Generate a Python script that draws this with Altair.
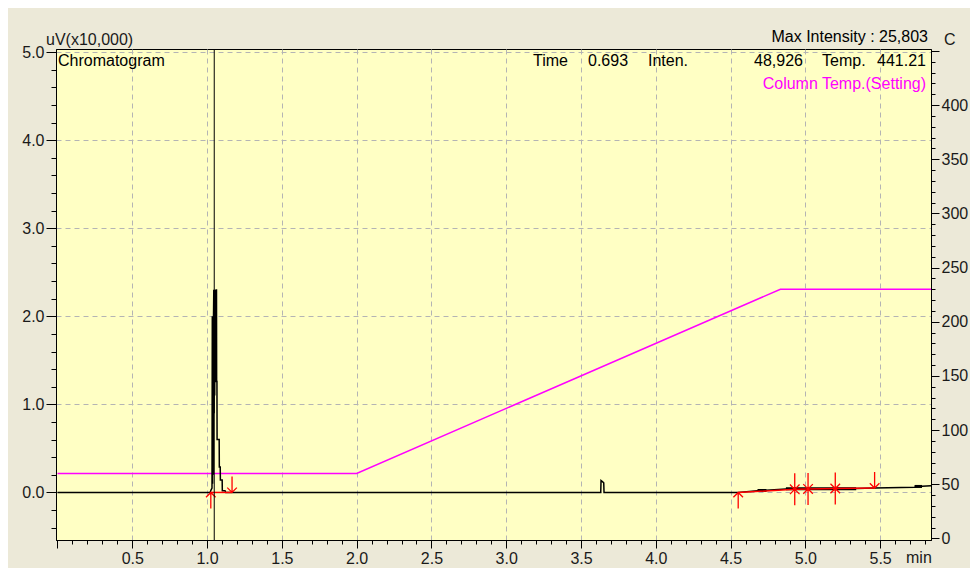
import altair as alt
import pandas as pd

# ---------------- data ----------------
# chromatogram signal: time (min) / intensity (uV x10,000)
SIG_T = [0.000, 1.020, 1.027, 1.033, 1.035, 1.037, 1.039, 1.041, 1.043, 1.045,
         1.047, 1.049, 1.051, 1.053, 1.055, 1.057, 1.059, 1.061, 1.063, 1.064,
         1.066, 1.067, 1.081, 1.082, 1.088, 1.089, 1.101, 1.102, 1.120, 1.125,
         3.632, 3.634, 3.645, 3.652, 3.654, 4.551, 4.680, 4.740, 4.870, 5.340,
         5.463, 5.730, 5.780, 5.840]
SIG_V = [0.000, 0.000, 0.030, 0.050, 2.000, 0.100, 2.000, 0.200, 2.000, 2.300,
         0.900, 2.300, 1.100, 2.300, 1.250, 2.300, 1.300, 2.300, 2.300, 1.260,
         1.260, 0.600, 0.600, 0.290, 0.290, 0.140, 0.140, 0.020, 0.020, 0.000,
         0.000, 0.135, 0.120, 0.110, 0.000, 0.000, 0.020, 0.025, 0.040, 0.045,
         0.050, 0.060, 0.070, 0.075]

# short noisy (thick) stretches of the trace
NOISE_T0 = [4.680, 4.870, 5.730]
NOISE_T1 = [4.740, 5.340, 5.780]
NOISE_V = [0.022, 0.042, 0.068]

# integration baselines (red)
BASE_SEG = ["p1", "p1", "p2", "p2", "p2", "p2", "p2"]
BASE_T = [1.025, 1.167, 4.551, 4.929, 5.018, 5.200, 5.463]
BASE_V = [0.000, 0.000, 0.000, 0.035, 0.040, 0.045, 0.050]

# peak start / end markers
UP_T = [1.025, 4.551, 4.929, 5.018, 5.200]
UP_V = [0.000, 0.000, 0.035, 0.040, 0.045]
DOWN_T = [1.167, 4.929, 5.018, 5.200, 5.463]
DOWN_V = [0.000, 0.035, 0.040, 0.045, 0.050]

CURSOR_T = [1.048]

# column temperature programme (setting)
TEMP_T = [0.0, 2.0, 4.833, 5.84]
TEMP_C = [60, 60, 230, 230]

# header texts
HEAD_LEFT = ["Chromatogram", "Time", "0.693", "Inten.", "Temp."]
HEAD_RIGHT = ["48,926", "441.21"]
MAX_TEXT = "Max Intensity :  25,803"
Y_UNIT = "uV(x10,000)"
R_UNIT = "C"
X_UNIT = "min"
LEGEND = "Column Temp.(Setting)"

# ---------------- layout / style ----------------
W, H = 875, 491
FONT = "Liberation Sans"
FS = 16
BG = "#ECE9D8"
PLOT_BG = "#FFFFC4"
GRID = "#B4B4B4"

X_TICKS = [round(0.1 * i, 1) for i in range(0, 59)]
YL_TICKS = [round(-0.4 + 0.2 * i, 1) for i in range(0, 28)]
YR_TICKS = [10 * i for i in range(0, 46)]

is_half = "abs(datum.value*2 - round(datum.value*2)) < 1e-6"
is_int = "abs(datum.value - round(datum.value)) < 1e-6"
is_50 = "datum.value % 50 == 0"

common_axis = dict(
    title=None, labelFont=FONT, labelFontSize=FS, labelColor="#1a1a1a",
    domainColor="#000000", tickColor="#000000", tickWidth=1, domainWidth=1,
    labelFlush=False, labelOverlap=False,
)

X_AXIS = alt.Axis(
    values=X_TICKS,
    labelExpr=f"({is_half}) && datum.value > 0.01 ? format(datum.value, '.1f') : ''",
    tickSize={"condition": {"test": is_half, "value": 8}, "value": 4},
    grid=True, gridColor=GRID, gridDash=[5, 4], gridWidth=1,
    gridOpacity={"condition": {"test": f"({is_half}) && datum.value > 0.01", "value": 1}, "value": 0},
    labelPadding=2,
    **common_axis,
)
YL_AXIS = alt.Axis(
    orient="left",
    values=YL_TICKS,
    labelExpr=f"({is_int}) ? format(datum.value, '.1f') : ''",
    tickSize={"condition": {"test": is_int, "value": 10}, "value": 5},
    grid=True, gridColor=GRID, gridDash=[5, 4], gridWidth=1,
    gridOpacity={"condition": {"test": f"({is_int}) && datum.value >= 0", "value": 1}, "value": 0},
    labelPadding=2,
    **common_axis,
)
YR_AXIS = alt.Axis(
    orient="right",
    values=YR_TICKS,
    labelExpr=f"({is_50}) && datum.value <= 400 ? format(datum.value, 'd') : ''",
    tickSize={"condition": {"test": is_50, "value": 8}, "value": 4},
    grid=False, labelPadding=2,
    **common_axis,
)

X_SCALE = alt.Scale(domain=[-0.01, 5.84], nice=False, zero=False)
YL_SCALE = alt.Scale(domain=[-0.54, 5.035], nice=False, zero=False)
YR_SCALE = alt.Scale(domain=[-1.4, 451.7], nice=False, zero=False)

X = alt.X("t:Q", scale=X_SCALE, axis=X_AXIS)
YL = alt.Y("v:Q", scale=YL_SCALE, axis=YL_AXIS)
YR = alt.Y("c:Q", scale=YR_SCALE, axis=YR_AXIS)

# ---------------- tables ----------------
df_sig = pd.DataFrame({"t": SIG_T, "v": SIG_V, "o": range(len(SIG_T))})
df_noise = pd.DataFrame({"t": NOISE_T0, "t1": NOISE_T1, "v": NOISE_V})
df_base = pd.DataFrame({"t": BASE_T, "v": BASE_V, "seg": BASE_SEG})
df_up = pd.DataFrame({"t": UP_T, "v": UP_V})
df_down = pd.DataFrame({"t": DOWN_T, "v": DOWN_V})
df_cursor = pd.DataFrame({"t": CURSOR_T})
df_temp = pd.DataFrame({"t": TEMP_T, "c": TEMP_C})

UP_PATH = "M0,-1L0,1M-0.6,-0.4L0,-1L0.6,-0.4"
DOWN_PATH = "M0,1L0,-1M-0.6,0.4L0,1L0.6,0.4"

temp = alt.Chart(df_temp).mark_line(color="#FF00FF", strokeWidth=1.5).encode(x=X, y=YR)

sig = alt.Chart(df_sig).mark_line(color="#000000", strokeWidth=1.5).encode(
    x=X, y=YL, order="o:Q")
noise = alt.Chart(df_noise).mark_rule(color="#000000", strokeWidth=3).encode(
    x=X, x2="t1:Q", y=YL)
base = alt.Chart(df_base).mark_line(color="#FF0000", strokeWidth=1.5).encode(
    x=X, y=YL, detail="seg:N")
up = alt.Chart(df_up).mark_point(
    shape=UP_PATH, size=256, filled=False, color="#FF0000", strokeWidth=1.3,
    opacity=1, yOffset=8).encode(x=X, y=YL)
down = alt.Chart(df_down).mark_point(
    shape=DOWN_PATH, size=256, filled=False, color="#FF0000", strokeWidth=1.3,
    opacity=1, yOffset=-8).encode(x=X, y=YL)
cursor = alt.Chart(df_cursor).mark_rule(color="#000000", strokeWidth=1).encode(x=X)

# annotation texts (pixel positions relative to the plot area)
HL_X = [2, 477, 532, 592, 766]
HR_X = [747, 870]
df_hl = pd.DataFrame({"text": HEAD_LEFT, "px": HL_X})
df_hr = pd.DataFrame({"text": HEAD_RIGHT, "px": HR_X})

txt = dict(font=FONT, fontSize=FS, baseline="alphabetic")
head_l = alt.Chart(df_hl).mark_text(align="left", color="#000000", **txt).encode(
    x=alt.X("px:Q", scale=None), y=alt.value(17), text="text:N")
head_r = alt.Chart(df_hr).mark_text(align="right", color="#000000", **txt).encode(
    x=alt.X("px:Q", scale=None), y=alt.value(17), text="text:N")

df_one = pd.DataFrame({"k": [0]})
legend = alt.Chart(df_one).mark_text(align="right", color="#FF00FF", text=LEGEND, **txt).encode(
    x=alt.value(870), y=alt.value(40))
maxi = alt.Chart(df_one).mark_text(align="right", color="#000000", text=MAX_TEXT, **txt).encode(
    x=alt.value(872), y=alt.value(-7))
yunit = alt.Chart(df_one).mark_text(align="left", color="#1a1a1a", text=Y_UNIT, **txt).encode(
    x=alt.value(-10), y=alt.value(-4))
runit = alt.Chart(df_one).mark_text(align="left", color="#1a1a1a", text=R_UNIT, **txt).encode(
    x=alt.value(888), y=alt.value(-4))
xunit = alt.Chart(df_one).mark_text(align="left", color="#1a1a1a", text=X_UNIT, **txt).encode(
    x=alt.value(850), y=alt.value(514))

left = alt.layer(sig, noise, base, up, down, cursor,
                 head_l, head_r, legend, maxi, yunit, runit, xunit)

chart = (
    alt.layer(temp, left)
    .resolve_scale(y="independent")
    .properties(
        width=W, height=H, autosize="none",
        padding={"left": 48, "top": 41, "right": 39, "bottom": 28},
        background=BG,
    )
    .configure_view(fill=PLOT_BG, stroke="#000000", strokeWidth=1)
)

chart.save("out.html", embed_options={"renderer": "svg", "actions": False})
